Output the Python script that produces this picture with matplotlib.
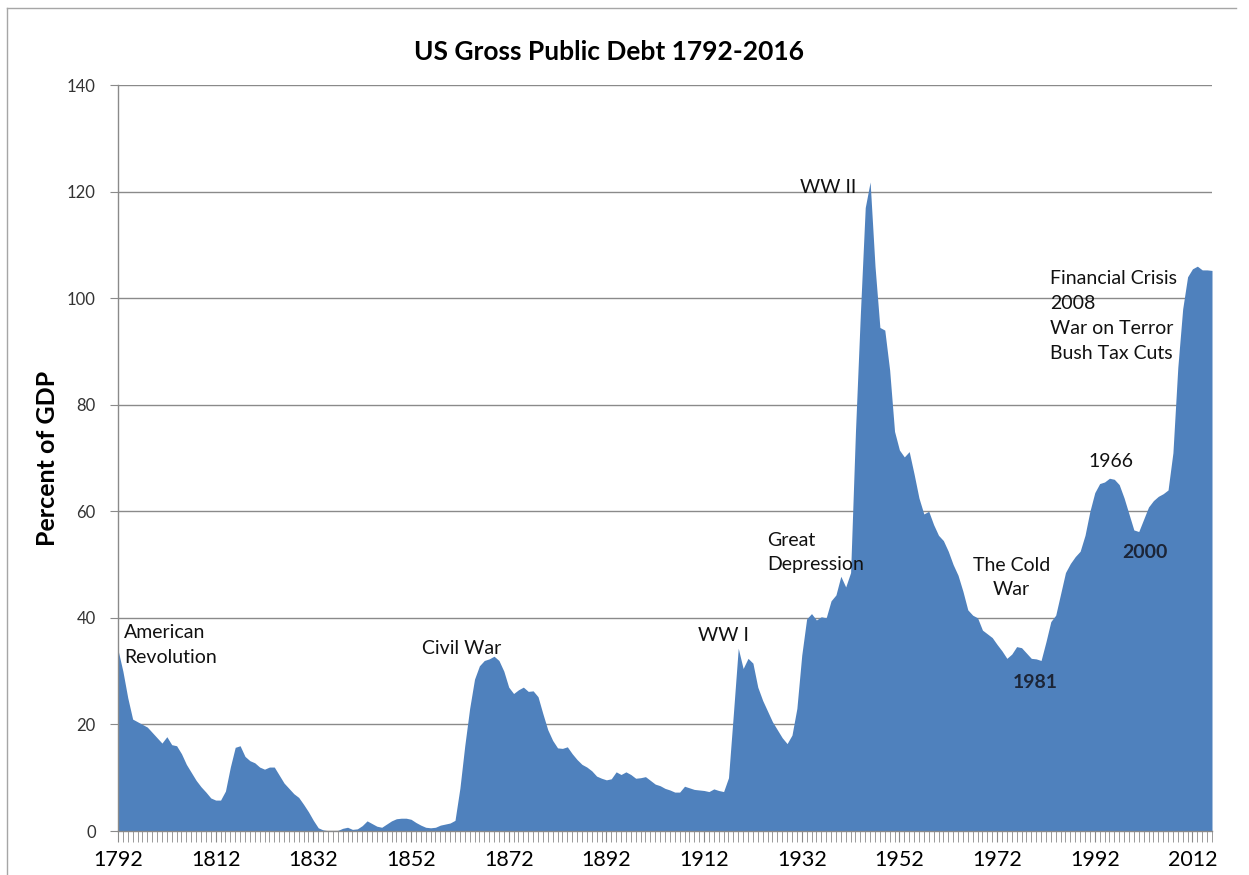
import numpy as np
import matplotlib.pyplot as plt
from matplotlib.lines import Line2D

plt.rcParams['font.family'] = ['Lato', 'DejaVu Sans']

# gross federal debt, percent of GDP, one value per year 1792-2016
debt_1792_1831 = [34, 30, 25, 21, 20.5, 20, 19.5, 18.5, 17.5, 16.5,
                  17.7, 16.2, 16, 14.5, 12.5, 11, 9.5, 8.3, 7.3, 6.2,
                  5.8, 5.8, 7.5, 12, 15.7, 16, 14, 13.2, 12.8, 12,
                  11.6, 12, 12, 10.5, 9, 8, 7, 6.3, 5, 3.6]
debt_1832_1871 = [2, 0.6, 0.2, 0.05, 0.05, 0.1, 0.5, 0.7, 0.3, 0.4,
                  1.0, 1.9, 1.4, 0.9, 0.7, 1.3, 1.9, 2.3, 2.4, 2.4,
                  2.2, 1.6, 1.1, 0.7, 0.6, 0.7, 1.1, 1.3, 1.5, 2,
                  8, 16, 23, 28.5, 31, 32, 32.3, 32.8, 32, 30]
debt_1872_1911 = [27, 25.8, 26.5, 27, 26.2, 26.3, 25.2, 22, 19, 17,
                  15.6, 15.5, 15.8, 14.5, 13.4, 12.5, 12, 11.3, 10.3, 9.9,
                  9.6, 9.8, 11.1, 10.6, 11.1, 10.6, 9.9, 10, 10.2, 9.5,
                  8.8, 8.5, 8.0, 7.7, 7.3, 7.3, 8.4, 8.1, 7.8, 7.7]
debt_1912_1951 = [7.6, 7.4, 7.9, 7.6, 7.4, 10, 22, 34.3, 30.5, 32.4,
                  31.5, 27, 24.5, 22.5, 20.5, 19, 17.5, 16.4, 18, 23,
                  33, 39.8, 40.8, 39.6, 40.2, 40.0, 43.2, 44.3, 47.8, 45.8,
                  48.5, 75, 97, 117, 121.8, 106, 94.5, 94, 86.5, 75]
debt_1952_1991 = [71.5, 70.2, 71.2, 67, 62.5, 59.5, 60, 57.5, 55.5, 54.5,
                  52.5, 50, 48, 45, 41.5, 40.5, 40, 37.7, 37, 36.3,
                  35, 33.8, 32.4, 33.2, 34.6, 34.4, 33.4, 32.4, 32.3, 32.0,
                  35.5, 39.3, 40.5, 44.5, 48.5, 50.2, 51.5, 52.5, 55.5, 60]
debt_1992_2016 = [63.5, 65.2, 65.5, 66.2, 66, 65, 62.5, 59.5, 56.5, 56.2,
                  58.5, 60.8, 62, 62.8, 63.3, 64, 71, 87, 98, 104,
                  105.5, 106, 105.3, 105.3, 105.2]

debt = (debt_1792_1831 + debt_1832_1871 + debt_1872_1911 +
        debt_1912_1951 + debt_1952_1991 + debt_1992_2016)
years = np.arange(1792, 1792 + len(debt))
label_years = list(range(1792, 2013, 20))

fig = plt.figure(figsize=(12.49, 8.75), dpi=100)
ax = fig.add_axes([118 / 1249, 1 - 831 / 875, (1212 - 118) / 1249, (831 - 85) / 875])

ax.fill_between(years, debt, 0, color='#4F81BD', lw=0)

ax.set_xlim(1792, 2016)
ax.set_ylim(0, 140)
ax.set_yticks(range(0, 141, 20))
ax.set_xticks(label_years)
ax.set_xticks(years, minor=True)
ax.set_xticklabels([str(y) for y in label_years], fontsize=15.5)
ax.tick_params(axis='x', which='both', length=8, color='#8a8a8a', pad=6)
ax.tick_params(axis='y', length=6, color='#8a8a8a', labelsize=12,
               labelcolor='#333333', pad=10)

ax.yaxis.grid(True, color='#8a8a8a', lw=1)
ax.set_axisbelow(True)
for s in ['top', 'right']:
    ax.spines[s].set_visible(False)
for s in ['left', 'bottom']:
    ax.spines[s].set_color('#8a8a8a')
    ax.spines[s].set_linewidth(1)

ax.set_ylabel('Percent of GDP', fontsize=18, fontweight='bold', labelpad=6)
fig.text(609 / 1249, 1 - 52 / 875, 'US Gross Public Debt 1792-2016',
         fontsize=19, fontweight='bold', ha='center', va='center')

# event notes
tk = dict(fontsize=14, color='#111111', linespacing=1.55)
ax.text(1793.2, 38.8, 'American\nRevolution', ha='left', va='top', **tk)
ax.text(1862.4, 34.3, 'Civil War', ha='center', va='center', **tk)
ax.text(1915.9, 36.6, 'WW I', ha='center', va='center', **tk)
ax.text(1937.4, 120.7, 'WW II', ha='center', va='center', **tk)
ax.text(1924.9, 56.2, 'Great\nDepression', ha='left', va='top', **tk)
ax.text(1975.0, 51.5, 'The Cold\nWar', ha='center', va='top',
        multialignment='center', **tk)
ax.text(1995.3, 69.4, '1966', ha='center', va='center', **tk)
ax.text(2002.3, 52.2, '2000', ha='center', va='center', fontsize=14,
        fontweight='bold', color='#1c2537')
ax.text(1979.8, 27.8, '1981', ha='center', va='center', fontsize=14,
        fontweight='bold', color='#1c2537')
ax.text(1982.8, 105.2, 'Financial Crisis\n2008\nWar on Terror\nBush Tax Cuts',
        ha='left', va='top', **tk)

# chart area frame
frame = dict(color='#a6a6a6', lw=1, transform=fig.transFigure)
fig.add_artist(Line2D([7 / 1249, 1236 / 1249], [1 - 8 / 875, 1 - 8 / 875], **frame))
fig.add_artist(Line2D([7 / 1249, 7 / 1249], [0, 1 - 8 / 875], **frame))

fig.savefig('out.png', dpi=100)
